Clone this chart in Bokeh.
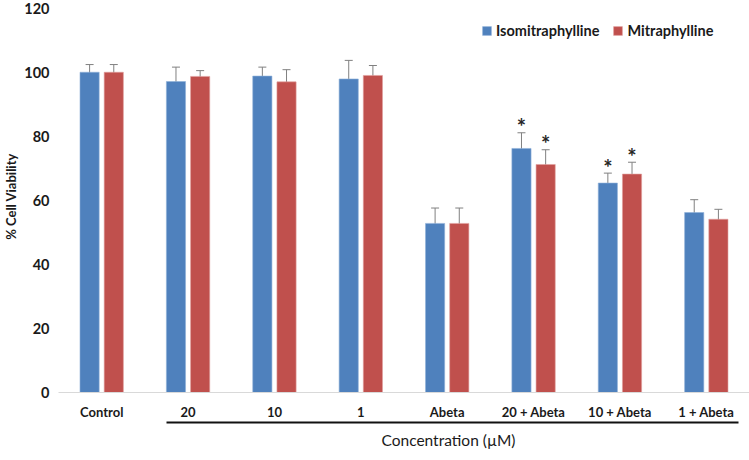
from bokeh.plotting import figure
from bokeh.models import (ColumnDataSource, FactorRange, Range1d, FixedTicker, Whisker,
                          TeeHead, Legend, LegendItem, LinearAxis, Title)
from bokeh.transform import dodge
from bokeh.core.properties import value
from bokeh.embed import file_html
from bokeh.resources import INLINE

categories = ["Control", "20", "10", "1", "Abeta", "20 + Abeta", "10 + Abeta", "1 + Abeta"]
iso_vals = [100.0, 97.1, 98.8, 97.9, 52.8, 76.2, 65.4, 56.2]
iso_err = [2.4, 4.5, 2.8, 5.8, 4.8, 4.9, 3.1, 4.0]
mit_vals = [100.0, 98.7, 97.0, 99.0, 52.8, 71.2, 68.2, 54.1]
mit_err = [2.4, 1.8, 3.8, 3.1, 4.8, 4.6, 3.7, 3.1]
iso_star = ["", "", "", "", "", "*", "*", ""]
mit_star = ["", "", "", "", "", "*", "*", ""]
y_ticks = [0, 20, 40, 60, 80, 100, 120]
series_names = ["Isomitraphylline", "Mitraphylline"]
colors = ["#4F81BD", "#C0504D"]
y_label = "% Cell Viability"
x_label = "Concentration (\u00b5M)"

FONT = "Lato"
W, H = 749, 460
TXT = "#1a1a1a"

src = ColumnDataSource(dict(
    cat=categories,
    iso=iso_vals, iso_lo=[v - e for v, e in zip(iso_vals, iso_err)],
    iso_hi=[v + e for v, e in zip(iso_vals, iso_err)], iso_star=iso_star,
    mit=mit_vals, mit_lo=[v - e for v, e in zip(mit_vals, mit_err)],
    mit_hi=[v + e for v, e in zip(mit_vals, mit_err)], mit_star=mit_star,
))

p = figure(x_range=FactorRange(*categories, range_padding=0),
           y_range=Range1d(0, 122.4),
           width=W, height=H, output_backend="svg", toolbar_location=None,
           min_border_left=0, min_border_right=0, min_border_top=0, min_border_bottom=68)
p.outline_line_color = None
p.xgrid.grid_line_color = None
p.ygrid.grid_line_color = None
p.background_fill_color = "white"
p.border_fill_color = "white"

off = 0.14
bw = 0.222
r_iso = p.vbar(x=dodge("cat", -off, range=p.x_range), top="iso", width=bw, bottom=0,
               source=src, fill_color=colors[0], line_color="#8fb0d8", line_width=0.6)
r_mit = p.vbar(x=dodge("cat", off, range=p.x_range), top="mit", width=bw, bottom=0,
               source=src, fill_color=colors[1], line_color="#e0a09e", line_width=0.6)

for key, o in (("iso", -off), ("mit", off)):
    w = Whisker(base=dodge("cat", o, range=p.x_range), upper=key + "_hi", lower=key + "_lo",
                source=src, line_color="#808080", line_width=1,
                upper_head=TeeHead(size=8, line_color="#808080", line_width=1),
                lower_head=TeeHead(size=8, line_color="#808080", line_width=1))
    p.add_layout(w)
    p.text(x=dodge("cat", o, range=p.x_range), y=key + "_hi", text=key + "_star", source=src,
           text_font=value(FONT), text_font_size="22px", text_font_style="bold",
           text_color="#262626", text_align="center", text_baseline="middle", y_offset=-6)

# category axis
xa = p.xaxis[0]
xa.axis_line_color = "#d9d9d9"
xa.axis_line_width = 1
xa.major_tick_line_color = None
xa.minor_tick_line_color = None
xa.major_tick_out = 0
xa.major_tick_in = 0
xa.major_label_standoff = 11
xa.major_label_text_font = FONT
xa.major_label_text_font_style = "bold"
xa.major_label_text_font_size = "13px"
xa.major_label_text_color = TXT

# spacer axis (draws nothing: no ticks, no line)
spacer = LinearAxis(ticker=FixedTicker(ticks=[]), axis_line_color=None,
                    major_tick_line_color="#ffffff", minor_tick_line_color=None,
                    major_tick_out=7, major_tick_in=0, major_label_standoff=0)
p.add_layout(spacer, "below")

# bracket axis
brk = LinearAxis(bounds=(1.25, 7.87), ticker=FixedTicker(ticks=[]),
                 axis_line_color="#111111", axis_line_width=2,
                 major_tick_line_color=None, minor_tick_line_color=None,
                 major_tick_out=0, major_tick_in=0, major_label_standoff=0)
p.add_layout(brk, "below")

# axis title placed under the bracket
p.add_layout(Title(text=x_label, align="left", offset=323, standoff=12,
                   text_font=FONT, text_font_style="normal", text_font_size="15.5px",
                   text_color=TXT), "below")

ya = p.yaxis[0]
ya.ticker = FixedTicker(ticks=y_ticks)
ya.axis_line_color = None
ya.major_tick_line_color = None
ya.minor_tick_line_color = None
ya.major_tick_out = 0
ya.major_tick_in = 0
ya.major_label_text_font = FONT
ya.major_label_text_font_style = "bold"
ya.major_label_text_font_size = "14.5px"
ya.major_label_text_color = TXT
ya.major_label_standoff = 9
ya.axis_label = y_label
ya.axis_label_standoff = 2
ya.axis_label_text_font = FONT
ya.axis_label_text_font_style = "bold"
ya.axis_label_text_font_size = "13px"
ya.axis_label_text_color = TXT

legend = Legend(items=[LegendItem(label=series_names[0], renderers=[r_iso]),
                       LegendItem(label=series_names[1], renderers=[r_mit])],
                orientation="horizontal", location=(423, 353),
                glyph_width=11, glyph_height=11, label_text_font=FONT,
                label_text_font_style="bold", label_text_font_size="14.5px",
                label_text_color=TXT, spacing=13, label_standoff=4,
                border_line_color=None, background_fill_alpha=0, padding=4, margin=0)
p.add_layout(legend)

open("out.html", "w").write(file_html(p, INLINE))
